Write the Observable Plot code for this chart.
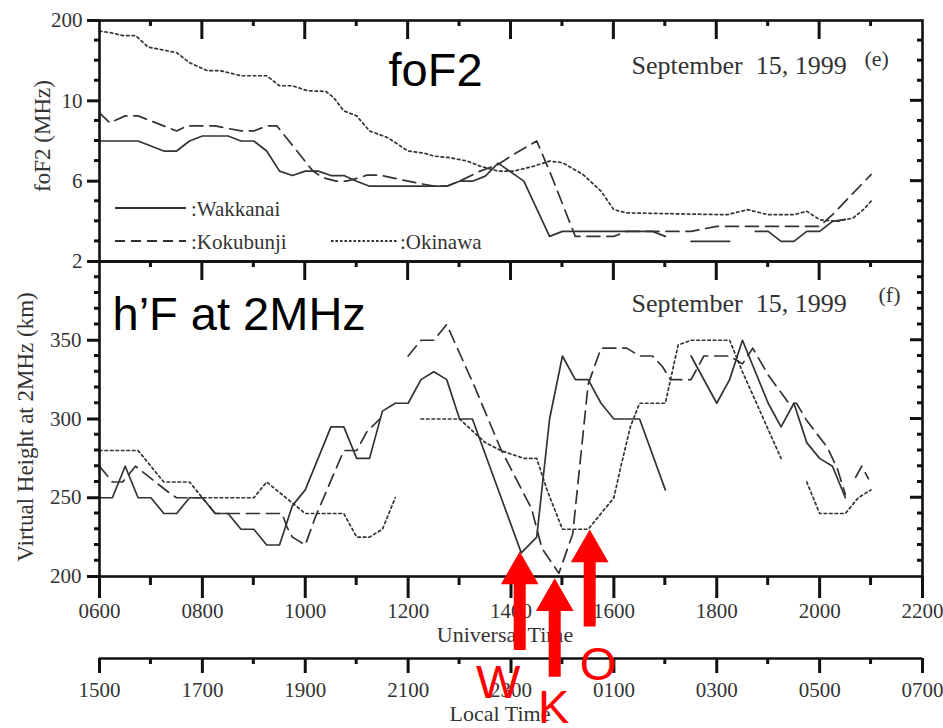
<!DOCTYPE html>
<html><head><meta charset="utf-8">
<script src="https://cdn.jsdelivr.net/npm/d3@7"></script>
<script src="https://cdn.jsdelivr.net/npm/@observablehq/plot@0.6"></script>
<style>
html,body{margin:0;padding:0;background:#fff;}
#wrap{position:relative;width:943px;height:728px;overflow:hidden;background:#fff;}
#wrap svg{position:absolute;left:0;top:0;}
</style></head><body><div id="wrap"></div>
<script>
// ---------------- DATA ----------------
// Universal time (hours) and foF2 (MHz, on the figure's linear axis)
const fof2WakkanaiUT  = [6.0,6.75,7.25,7.5,7.75,8.0,8.5,8.75,9.0,9.25,9.5,9.75,10.0,10.25,10.5,10.75,11.0,11.25,12.75,13.0,13.25,13.5,13.75,14.25,14.75,15.0,16.75,17.0,17.25,17.5,18.25,18.5,18.75,19.0,19.25,19.5,19.75,20.0,20.25,20.5];
const fof2WakkanaiMHz = [8.0,8.0,7.5,7.5,8.0,8.25,8.25,8.0,8.0,7.5,6.5,6.28,6.5,6.5,6.28,6.28,6.0,5.75,5.75,6.0,6.0,6.25,6.9,6.0,3.25,3.5,3.5,3.25,null,3.0,3.0,null,3.5,3.5,3.0,3.0,3.5,3.5,4.0,4.1];
const fof2KokubunjiUT  = [6.0,6.2,6.5,6.75,7.5,7.7,8.25,8.75,9.0,9.25,9.45,10.15,10.35,10.6,10.8,11.05,11.2,11.45,12.0,12.5,12.75,13.0,13.4,13.75,14.05,14.5,14.75,15.25,16.0,16.25,17.5,18.0,20.0,20.25,21.0];
const fof2KokubunjiMHz = [9.4,8.9,9.25,9.25,8.5,8.75,8.75,8.5,8.5,8.75,8.75,6.5,6.17,6.0,6.0,6.17,6.3,6.3,6.0,5.75,5.75,6.0,6.5,6.83,7.33,8.0,6.5,3.25,3.25,3.5,3.5,3.75,3.75,4.33,6.33];
const fof2OkinawaUT  = [6.0,6.2,6.45,6.7,6.95,7.3,7.5,7.75,8.1,8.35,8.75,9.25,9.5,9.75,10.05,10.4,10.55,10.75,11.0,11.25,11.6,12.0,12.3,12.5,12.8,13.15,13.4,13.75,14.05,14.45,14.75,15.0,15.4,15.75,16.0,16.25,18.2,18.6,19.0,19.5,19.75,20.0,20.35,20.65,20.85,21.0];
const fof2OkinawaMHz = [13.47,13.4,13.25,13.25,12.67,12.5,12.4,11.9,11.5,11.5,11.25,11.25,10.75,10.75,10.5,10.47,10.17,9.5,9.25,8.5,8.17,7.5,7.4,7.25,7.17,7.0,6.75,6.5,6.5,6.75,7.0,6.92,6.33,5.5,4.58,4.42,4.33,4.58,4.33,4.33,4.5,4.08,4.0,4.17,4.58,5.0];

// Virtual height at 2 MHz (km)
const hfWakkanaiUT = [6.0,6.25,6.5,6.75,7.0,7.25,7.5,7.75,8.0,8.25,8.5,8.75,9.0,9.25,9.5,9.75,10.0,10.25,10.5,10.75,11.0,11.25,11.5,11.75,12.0,12.25,12.5,12.75,13.0,13.25,14.2,14.5,14.75,15.0,15.25,15.5,15.75,16.0,16.5,17.0,17.25,17.5,18.0,18.25,18.5,19.0,19.25,19.5,19.75,20.0,20.25,20.5];
const hfWakkanaiKm = [250,250,270,250,250,240,240,250,250,240,240,230,230,220,220,245,255,275,295,295,275,275,305,310,310,325,330,325,300,300,215,225,300,340,325,325,310,300,300,255,null,340,310,325,350,310,295,310,285,275,270,250];
const hfKokubunjiUT = [6.0,6.25,6.45,6.7,7.4,7.5,8.0,8.25,9.55,9.65,9.75,10.0,10.2,10.75,11.0,11.2,11.45,11.7,12.0,12.25,12.5,12.75,13.3,13.8,14.4,14.6,14.93,15.2,15.5,15.75,16.25,16.5,16.75,16.95,17.1,17.5,17.75,18.25,18.5,18.7,19.0,19.4,19.55,19.75,20.15,20.35,20.5,20.6,20.7,20.82,20.95];
const hfKokubunjiKm = [270,260,260,270,252,250,250,240,240,231,225,220,238,280,280,292,300,null,340,350,350,360,320,281,243,218,202,227,322,345,345,340,340,333,325,325,340,340,335,345,328,310,310,299,282,268,252,null,263,270,262];
const hfOkinawaUT = [6.0,6.75,7.25,7.75,8.0,9.0,9.25,10.0,10.75,11.0,11.25,11.5,11.75,12.0,12.25,13.0,13.5,13.8,14.25,14.5,14.7,15.0,15.5,15.7,16.0,16.13,16.32,16.5,17.0,17.25,17.5,18.25,18.5,19.25,19.5,19.75,20.0,20.5,20.75,21.0];
const hfOkinawaKm = [280,280,260,260,250,250,260,240,240,225,225,230,250,null,300,300,285,280,275,275,255,230,230,238,250,269,295,310,310,347,350,350,330,275,null,260,240,240,250,255];

// axis ticks
const utMajor = [6,8,10,12,14,16,18,20,22];
const utMinor = [7,9,11,13,15,17,19,21];
const utLabels = ["0600","0800","1000","1200","1400","1600","1800","2000","2200"];
const ltMajor = [15,17,19,21,23,25,27,29,31];
const ltMinor = [16,18,20,22,24,26,28,30];
const ltLabels = ["1500","1700","1900","2100","2300","0100","0300","0500","0700"];
const fof2Ticks = [2,6,10,14];
const fof2TickLabels = ["2","6","10","200"];
const fof2Minor = [3,4,5,7,8,9,11,12,13];
const hfTicks = [200,250,300,350];
const hfTickLabels = ["200","250","300","350"];
const hfMinor = [210,220,230,240,260,270,280,290,310,320,330,340,360,370,380,390];

// annotation arrows (onset times marked on the figure)
const arrowNames = ["W","K","O"];
const arrowUT    = [14.17,14.85,15.53];
const arrowTipKm = [216,199,230];
const arrowTailKm= [153,136,168];
const arrowLabelUT = [13.75,14.83,15.69];
const arrowLabelKm = [123,107,134];

// ---------------- BUILD ----------------
const rows = (xs, ys) => xs.map((x, i) => ({ut: x, v: ys[i]}));
const W = 943, H = 728, ML = 99, MR = 21;
const INK = "#111", LINE = "#333";
const TW = 2.6;      // frame / axis line width
const KW = 3;        // tick width
const SERIF = "Liberation Serif, Times New Roman, serif";
const SANS = "Liberation Sans, Arial, sans-serif";
const baseStyle = {background: "transparent", fontFamily: SERIF, fontSize: "21px", color: INK, overflow: "visible"};
const wrap = document.getElementById("wrap");

function seriesMarks(wk, kk, ok) {
  return [
    Plot.line(ok, {x: "ut", y: "v", stroke: LINE, strokeWidth: 1.7, strokeDasharray: "2.5,3"}),
    Plot.line(kk, {x: "ut", y: "v", stroke: LINE, strokeWidth: 1.7, strokeDasharray: "13,7"}),
    Plot.line(wk, {x: "ut", y: "v", stroke: LINE, strokeWidth: 1.7})
  ];
}

// Upper panel: foF2
const upper = Plot.plot({
  width: W, height: H, marginLeft: ML, marginRight: MR, marginTop: 20, marginBottom: H - 261,
  style: baseStyle,
  x: {domain: [6, 22], axis: null},
  y: {domain: [2, 14]},
  marks: [
    ...seriesMarks(rows(fof2WakkanaiUT, fof2WakkanaiMHz), rows(fof2KokubunjiUT, fof2KokubunjiMHz), rows(fof2OkinawaUT, fof2OkinawaMHz)),
    Plot.frame({stroke: INK, strokeWidth: TW}),
    Plot.axisY({anchor: "left", ticks: fof2Ticks, tickFormat: d => fof2TickLabels[fof2Ticks.indexOf(d)], tickSize: 12, tickPadding: 5, strokeWidth: KW, stroke: INK, fill: "#333", label: null}),
    Plot.text(["foF2 (MHz)"], {frameAnchor: "left", rotate: -90, textAnchor: "middle", dx: -57, dy: -5, fontSize: 23, fill: "#333"}),
    Plot.text(["foF2"], {frameAnchor: "top-left", textAnchor: "start", lineAnchor: "bottom", dx: 289, dy: 65, fontSize: 47, fontFamily: SANS, fill: "#000"}),
    Plot.text(["September  15, 1999"], {frameAnchor: "top-left", textAnchor: "start", lineAnchor: "bottom", dx: 532, dy: 53, fontSize: 26, fill: "#333"}),
    Plot.text(["(e)"], {frameAnchor: "top-left", textAnchor: "start", lineAnchor: "bottom", dx: 765, dy: 45, fontSize: 22, fill: "#333"})
  ]
});

// Lower panel: h'F
const lower = Plot.plot({
  width: W, height: H, marginLeft: ML, marginRight: MR, marginTop: 261, marginBottom: H - 576,
  style: baseStyle,
  x: {domain: [6, 22]},
  y: {domain: [200, 400]},
  marks: [
    ...seriesMarks(rows(hfWakkanaiUT, hfWakkanaiKm), rows(hfKokubunjiUT, hfKokubunjiKm), rows(hfOkinawaUT, hfOkinawaKm)),
    Plot.frame({stroke: INK, strokeWidth: TW}),
    Plot.axisY({anchor: "left", ticks: hfTicks, tickFormat: d => hfTickLabels[hfTicks.indexOf(d)], tickSize: 12, tickPadding: 6, strokeWidth: KW, stroke: INK, fill: "#333", label: null}),
    Plot.axisX({anchor: "bottom", ticks: utMajor, tickFormat: d => utLabels[utMajor.indexOf(d)], tickSize: 22, tickPadding: 5, strokeWidth: KW, stroke: INK, fill: "#333", label: null}),
    Plot.text(["Virtual Height at 2MHz (km)"], {frameAnchor: "left", rotate: -90, textAnchor: "middle", dx: -74, dy: 8, fontSize: 23, fill: "#333"}),
    Plot.text(["Universal Time"], {frameAnchor: "bottom", textAnchor: "middle", lineAnchor: "bottom", dx: -6, dy: 65, fontSize: 22, fill: "#333"}),
    Plot.text(["h\u2019F at 2MHz"], {frameAnchor: "top-left", textAnchor: "start", lineAnchor: "bottom", dx: 13, dy: 68, fontSize: 47, fontFamily: SANS, fill: "#000"}),
    Plot.text(["September  15, 1999"], {frameAnchor: "top-left", textAnchor: "start", lineAnchor: "bottom", dx: 532, dy: 50, fontSize: 26, fill: "#333"}),
    Plot.text(["(f)"], {frameAnchor: "top-left", textAnchor: "start", lineAnchor: "bottom", dx: 779, dy: 40, fontSize: 22, fill: "#333"})
  ]
});

// Local time axis
const local = Plot.plot({
  width: W, height: H, marginLeft: ML, marginRight: MR, marginTop: 600, marginBottom: H - 658,
  style: baseStyle,
  x: {domain: [15, 31]},
  y: {domain: [0, 1], axis: null},
  marks: [
    Plot.ruleY([0], {stroke: INK, strokeWidth: TW}),
    Plot.axisX({anchor: "bottom", ticks: ltMajor, tickFormat: d => ltLabels[ltMajor.indexOf(d)], tickSize: 15, tickPadding: 9, strokeWidth: KW, stroke: INK, fill: "#333", label: null}),
    Plot.text(["Local Time"], {frameAnchor: "bottom", textAnchor: "middle", lineAnchor: "bottom", dx: -11, dy: 62, fontSize: 22, fill: "#333"})
  ]
});

// Extra ticks (inward top/right, minor ticks) placed with the plots' own scales
const sx = lower.scale("x"), syU = upper.scale("y"), syL = lower.scale("y"), sxL = local.scale("x"), syLoc = local.scale("y");
const X = v => sx.apply(v);
const xLeft = X(6), xRight = X(22);
const tickSvg = d3.create("svg").attr("width", W).attr("height", H);
const seg = (x1, y1, x2, y2) => tickSvg.append("line").attr("x1", x1).attr("y1", y1).attr("x2", x2).attr("y2", y2)
  .attr("stroke", INK).attr("stroke-width", KW);
for (const top of [syU.apply(14), syL.apply(400)]) {
  for (const h of utMajor.slice(1, -1)) seg(X(h), top, X(h), top + 19);
  for (const h of utMinor) seg(X(h), top, X(h), top + 6);
}
const yPanels = [
  {s: syU, major: [6, 10], minor: fof2Minor},
  {s: syL, major: [250, 300, 350], minor: hfMinor}
];
for (const p of yPanels) {
  for (const v of p.major) seg(xRight - 12, p.s.apply(v), xRight, p.s.apply(v));
  for (const v of p.minor) {
    seg(xRight - 5, p.s.apply(v), xRight, p.s.apply(v));
    seg(xLeft - 5, p.s.apply(v), xLeft, p.s.apply(v));
  }
}
const yBottom = syL.apply(200);
for (const h of utMinor) seg(X(h), yBottom, X(h), yBottom + 9);
const yLocal = syLoc.apply(0);
for (const h of ltMinor) seg(sxL.apply(h), yLocal, sxL.apply(h), yLocal + 6);

// Arrow overlay (shares the lower panel scales)
const arrows = arrowNames.map((n, i) => ({name: n, ut: arrowUT[i], tip: arrowTipKm[i], tail: arrowTailKm[i], lut: arrowLabelUT[i], lkm: arrowLabelKm[i]}));
const overlay = Plot.plot({
  width: W, height: H, marginLeft: ML, marginRight: MR, marginTop: 261, marginBottom: H - 576,
  style: baseStyle,
  x: {domain: [6, 22], axis: null},
  y: {domain: [200, 400], axis: null},
  marks: [
    Plot.ruleX(arrows, {x: "ut", y1: "tip", y2: "tail", stroke: "#ff0000", strokeWidth: 12, insetTop: 28}),
    Plot.dot(arrows, {x: "ut", y: "tip", symbol: "triangle", r: 14, fill: "#ff0000", stroke: "none", dy: 22}),
    Plot.text(arrows, {x: "lut", y: "lkm", text: "name", fill: "#ff0000", fontSize: 47, fontFamily: SANS, lineAnchor: "bottom"})
  ]
});

// Legend (upper panel)
const legendItems = [
  {name: ":Wakkanai", dash: null},
  {name: ":Kokubunji", dash: "10,6"},
  {name: ":Okinawa", dash: "2.5,2"}
];
const legendLayout = [
  {x1: 115, x2: 186, ly: 208, tx: 191, ty: 216},
  {x1: 115, x2: 186, ly: 241, tx: 191, ty: 249},
  {x1: 331, x2: 397, ly: 241, tx: 400, ty: 249}
];
const leg = d3.create("svg").attr("width", W).attr("height", H);
legendItems.forEach((it, i) => {
  const L = legendLayout[i];
  leg.append("line").attr("x1", L.x1).attr("x2", L.x2).attr("y1", L.ly).attr("y2", L.ly)
    .attr("stroke", LINE).attr("stroke-width", 1.9).attr("stroke-dasharray", it.dash);
  leg.append("text").attr("x", L.tx).attr("y", L.ty).text(it.name)
    .attr("font-family", SERIF).attr("font-size", 21).attr("fill", "#333");
});

wrap.append(upper, lower, local, tickSvg.node(), leg.node(), overlay);
</script>
</body></html>
